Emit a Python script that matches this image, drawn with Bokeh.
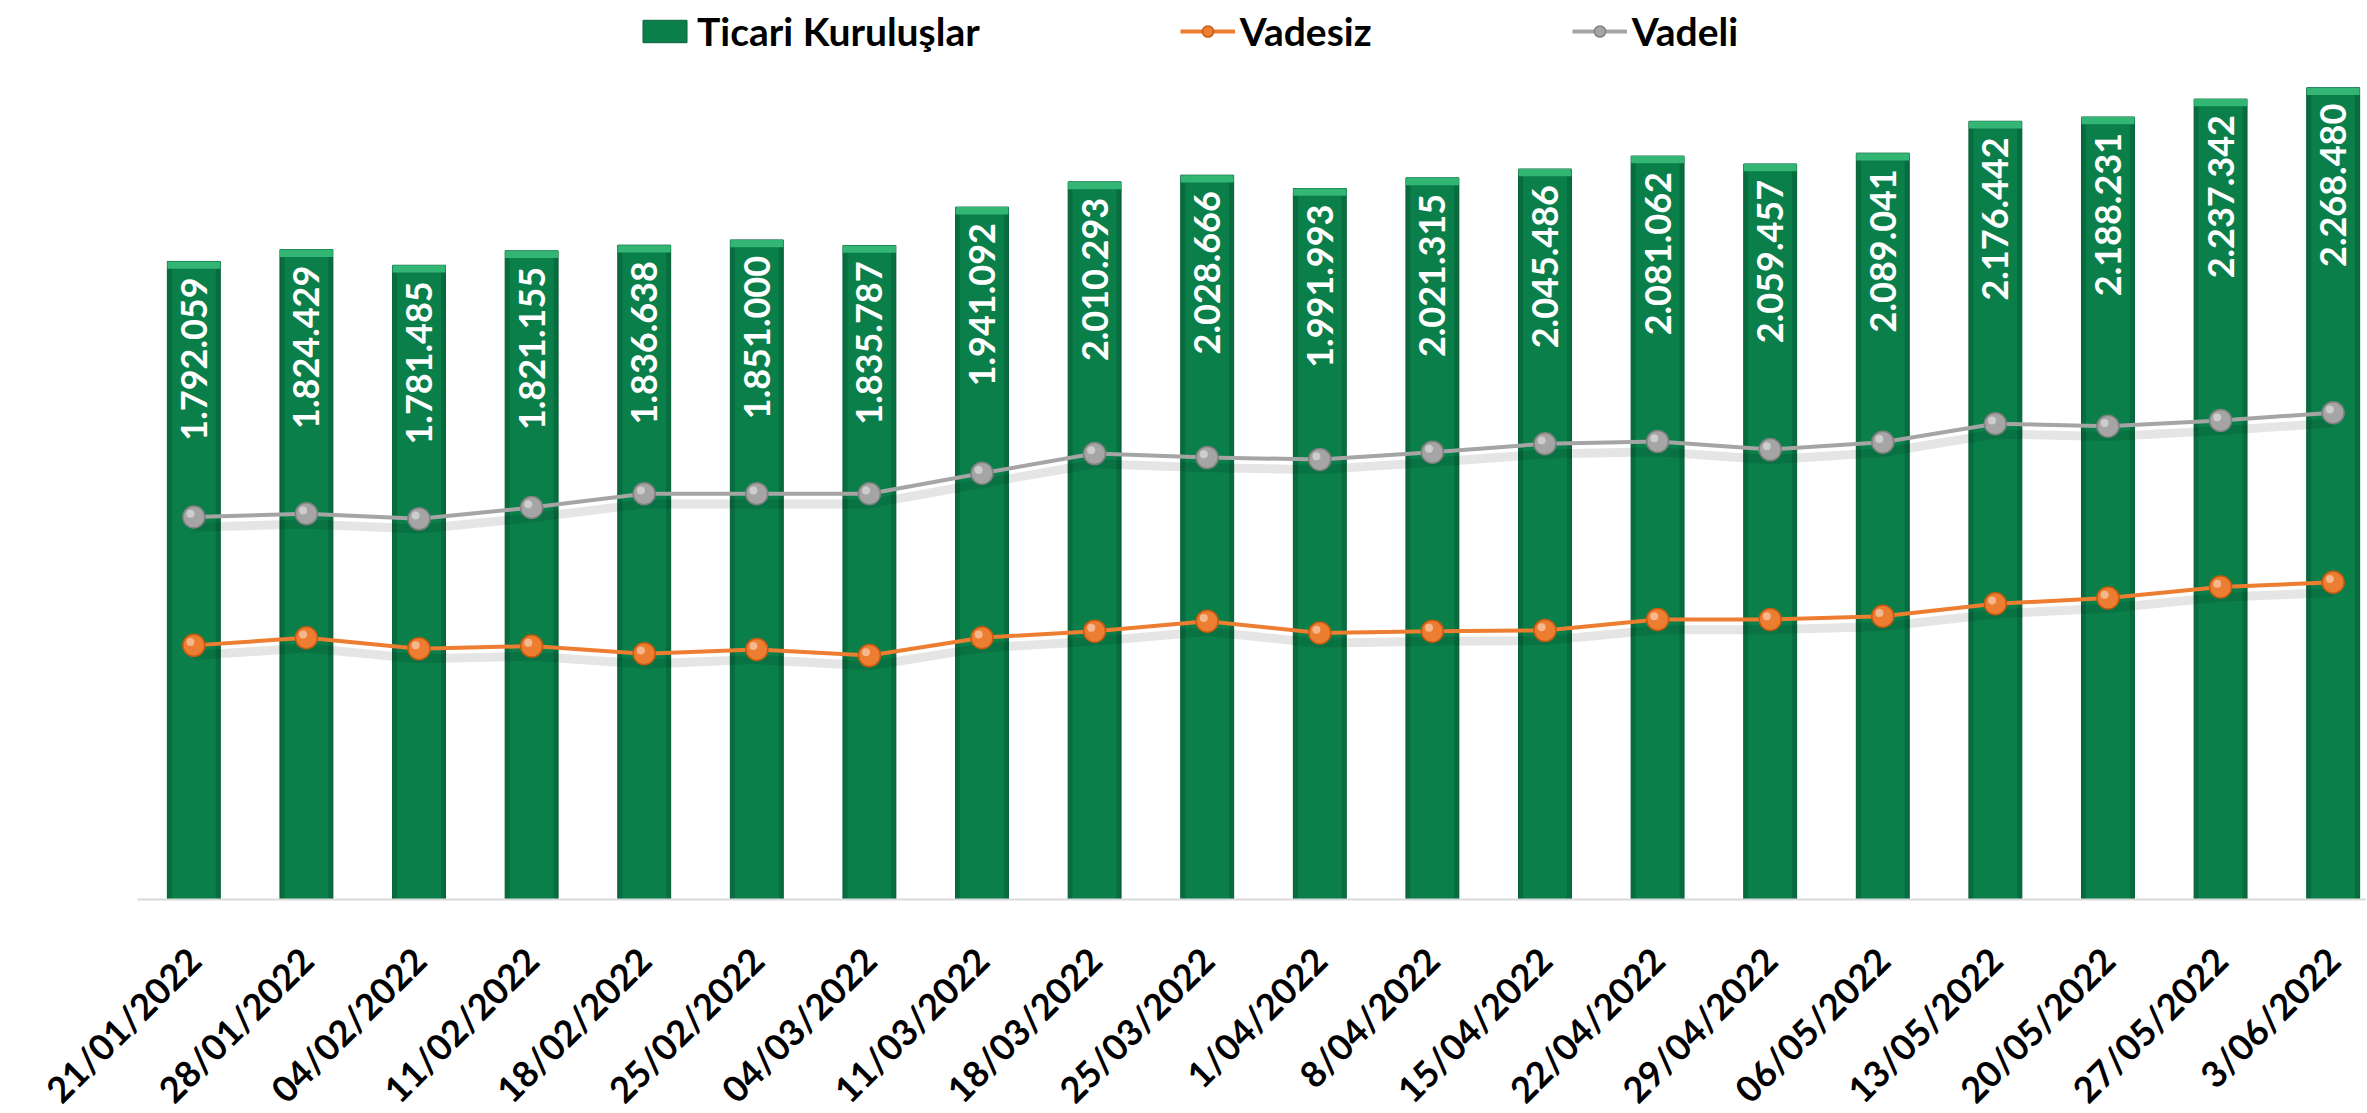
from math import pi
from bokeh.plotting import figure
from bokeh.models import Range1d, FixedTicker, Legend, LegendItem, ColumnDataSource
from bokeh.transform import dodge
from bokeh.core.properties import value
from bokeh.embed import file_html
from bokeh.resources import INLINE

dates = ["21/01/2022", "28/01/2022", "04/02/2022", "11/02/2022", "18/02/2022",
         "25/02/2022", "04/03/2022", "11/03/2022", "18/03/2022", "25/03/2022",
         "1/04/2022", "8/04/2022", "15/04/2022", "22/04/2022", "29/04/2022",
         "06/05/2022", "13/05/2022", "20/05/2022", "27/05/2022", "3/06/2022"]

ticari = [1792059, 1824429, 1781485, 1821155, 1836638, 1851000, 1835787, 1941092,
          2010293, 2028666, 1991993, 2021315, 2045486, 2081062, 2059457, 2089041,
          2176442, 2188231, 2237342, 2268480]

vadesiz = [739000, 760000, 730000, 737000, 716000, 728000, 711000, 760000,
           778000, 805000, 773000, 778000, 780000, 810000, 810000, 819000,
           853000, 869000, 899000, 912000]

vadeli = [1091000, 1100000, 1086000, 1117000, 1155000, 1155000, 1155000, 1211000,
          1265000, 1254000, 1249000, 1269000, 1292000, 1298000, 1276000, 1296000,
          1347000, 1340000, 1356000, 1377000]

value_labels = [f"{v:,}".replace(",", ".") for v in ticari]

AXIS_MIN = 42000          # value axis minimum (where the category axis sits)
FONT = "Lato"
GREEN = "#0a7f4a"
ORANGE = "#ed7d31"
GRAY = "#a5a5a5"

src = ColumnDataSource(dict(x=list(range(len(dates))), total=ticari,
                            vadesiz=vadesiz, vadeli=vadeli, label=value_labels))

p = figure(width=2366, height=1112, output_backend="svg", toolbar_location=None,
           x_range=Range1d(-1.717, 19.296), y_range=Range1d(-542200, 2507700),
           y_axis_location=None, min_border_left=0, min_border_right=0,
           min_border_top=0, min_border_bottom=0)
p.outline_line_color = None
p.xgrid.visible = False
p.ygrid.visible = False
p.background_fill_color = "white"

bars = p.vbar(x="x", top="total", bottom=AXIS_MIN, width=0.47, source=src,
              fill_color=GREEN, line_color="#06623a", line_width=1)
# darker side shading
p.vbar(x=dodge("x", -0.215, range=p.x_range), top="total", bottom=AXIS_MIN, width=0.04,
       source=src, fill_color="#045a32", fill_alpha=0.5, line_color=None)
p.vbar(x=dodge("x", 0.215, range=p.x_range), top="total", bottom=AXIS_MIN, width=0.04,
       source=src, fill_color="#045a32", fill_alpha=0.5, line_color=None)
# lighter bevel at top
p.vbar(x="x", top="total", bottom=dodge("total", -20000, range=p.y_range), width=0.47,
       source=src, fill_color="#33b574", line_color=None)

p.text(x="x", y="total", text="label", source=src, angle=pi / 2,
       text_align="right", text_baseline="middle", y_offset=16,
       text_color="white", text_font=value(FONT), text_font_style="bold",
       text_font_size="36px")

# line shadows
for col in ("vadeli", "vadesiz"):
    p.line(x="x", y=dodge(col, -28000, range=p.y_range), source=src,
           line_color="black", line_alpha=0.10, line_width=9)

l1 = p.line(x="x", y="vadesiz", source=src, line_color=ORANGE, line_width=4)
s1 = p.scatter(x="x", y="vadesiz", source=src, size=22, fill_color=ORANGE,
               line_color="#c55a11", line_width=1.5)
l2 = p.line(x="x", y="vadeli", source=src, line_color=GRAY, line_width=4)
s2 = p.scatter(x="x", y="vadeli", source=src, size=22, fill_color=GRAY,
               line_color="#7f7f7f", line_width=1.5)
for col in ("vadesiz", "vadeli"):
    p.scatter(x=dodge("x", -0.03, range=p.x_range), y=dodge(col, 9000, range=p.y_range),
              source=src, size=8, fill_color="white", fill_alpha=0.45, line_color=None)

ax = p.xaxis[0]
ax.fixed_location = AXIS_MIN
ax.bounds = (-0.5, 19.296)
ax.ticker = FixedTicker(ticks=list(range(len(dates))))
ax.major_label_overrides = {i: d for i, d in enumerate(dates)}
ax.major_label_orientation = pi / 4
ax.major_label_text_font = FONT
ax.major_label_text_font_style = "bold"
ax.major_label_text_font_size = "36px"
ax.major_label_text_color = "black"
ax.major_label_standoff = 54
ax.major_tick_out = 0
ax.major_tick_in = 0
ax.axis_line_color = "#d9d9d9"
ax.axis_line_width = 2
ax.major_tick_line_color = None
ax.minor_tick_line_color = None

legend = Legend(items=[LegendItem(label="Ticari Kuruluşlar", renderers=[bars]),
                       LegendItem(label="Vadesiz", renderers=[l1, s1]),
                       LegendItem(label="Vadeli", renderers=[l2, s2])],
                orientation="horizontal", location=(637, 1058),
                glyph_width=55, glyph_height=28, label_standoff=5, spacing=200,
                padding=0, margin=0, border_line_color=None,
                background_fill_alpha=0, label_text_font=FONT,
                label_text_font_style="bold", label_text_font_size="39px",
                label_text_color="black")
p.add_layout(legend)

open("out.html", "w").write(file_html(p, INLINE))
